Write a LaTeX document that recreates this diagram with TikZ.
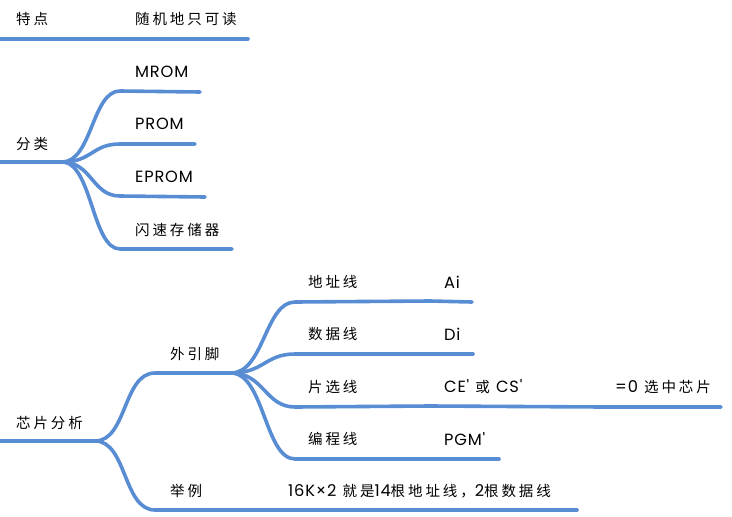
\documentclass[tikz,border=0pt]{standalone}
\usepackage{fontspec}
\setmainfont[LetterSpace=20]{Noto Sans CJK SC}
\newfontfamily\latfont[LetterSpace=5,Scale=1.12]{Poppins}
\newcommand\lt[1]{{\latfont #1}}
\newcommand\apos{{\latfont\char39}}
\usetikzlibrary{calc}
\definecolor{mapblue}{RGB}{88,141,212}
\begin{document}
\begin{tikzpicture}[x=1pt,y=-1pt,
  lbl/.style={anchor=west,inner sep=0pt,font=\fontsize{14.5}{17}\selectfont},
  branch/.style={draw=mapblue,line width=3.6pt,line cap=round,line join=round}]
\useasboundingbox (0,0) rectangle (732,517);

% ---------- 特点 ----------
\node[lbl] (tedian) at (16,19) {特点};
\node[lbl] (suiji) at (135,19) {随机地只可读};
\coordinate (tedian-s) at (0,39);
\coordinate (tedian-e) at (130,39);
\coordinate (suiji-e) at (248,39);
\draw[branch] (tedian-s) -- (tedian-e) -- (suiji-e);

% ---------- 分类 ----------
\node[lbl] (fenlei) at (16,144) {分类};
\coordinate (fenlei-s) at (0,162);
\coordinate (fenlei-e) at (62,162);
\draw[branch] (fenlei-s) -- (fenlei-e);

\node[lbl] (mrom) at (135,72) {\lt{MROM}};
\node[lbl] (prom) at (135,124) {\lt{PROM}};
\node[lbl] (eprom) at (135,177) {\lt{EPROM}};
\node[lbl] (shansu) at (135,230) {闪速存储器};
\coordinate (mrom-s) at (120,91);   \coordinate (mrom-e) at (200,92);
\coordinate (prom-s) at (120,144);  \coordinate (prom-e) at (195,144);
\coordinate (eprom-s) at (120,196); \coordinate (eprom-e) at (205,197);
\coordinate (shansu-s) at (120,249);\coordinate (shansu-e) at (232,249);
\foreach \c in {mrom,prom,eprom,shansu}{
  \draw[branch] (fenlei-e) .. controls ($(fenlei-e)+(30,0)$) and ($(\c-s)+(-28,0)$) .. (\c-s) -- (\c-e);
}

% ---------- 芯片分析 ----------
\node[lbl] (xinpian) at (16,423) {芯片分析};
\coordinate (xinpian-s) at (0,441);
\coordinate (xinpian-e) at (95,441);
\draw[branch] (xinpian-s) -- (xinpian-e);

\node[lbl] (wai) at (170,354) {外引脚};
\node[lbl] (juli) at (170,491) {举例};
\coordinate (wai-s) at (155,373); \coordinate (wai-e) at (231,373);
\coordinate (juli-s) at (155,510); \coordinate (juli-e) at (280,510);
\foreach \c in {wai,juli}{
  \draw[branch] (xinpian-e) .. controls ($(xinpian-e)+(32,0)$) and ($(\c-s)+(-32,0)$) .. (\c-s) -- (\c-e);
}

\node[lbl] (liexample) at (288,491) {\lt{16K×2} 就是\lt{14}根地址线，\lt{2}根数据线};
\coordinate (liexample-e) at (577,510);
\draw[branch] (juli-e) -- (liexample-e);

% 外引脚 children
\node[lbl] (dizhi) at (308,282) {地址线};
\node[lbl] (shuju) at (308,334) {数据线};
\node[lbl] (pianxuan) at (308,387) {片选线};
\node[lbl] (biancheng) at (308,439) {编程线};
\coordinate (dizhi-s) at (295,302);     \coordinate (dizhi-e) at (430,301);
\coordinate (shuju-s) at (295,354);     \coordinate (shuju-e) at (430,354);
\coordinate (pianxuan-s) at (295,407);  \coordinate (pianxuan-e) at (430,406);
\coordinate (biancheng-s) at (295,459); \coordinate (biancheng-e) at (430,459);
\foreach \c in {dizhi,shuju,pianxuan,biancheng}{
  \draw[branch] (wai-e) .. controls ($(wai-e)+(33,0)$) and ($(\c-s)+(-30,0)$) .. (\c-s) -- (\c-e);
}

\node[lbl] (ai) at (444,282) {\lt{Ai}};
\node[lbl] (di) at (444,334) {\lt{Di}};
\node[lbl] (cecs) at (444,387) {\lt{CE}\apos\ 或 \lt{CS}\apos};
\node[lbl] (pgm) at (444,439) {\lt{PGM}\apos};
\node[lbl] (xuanzhong) at (615,387) {\lt{=0} 选中芯片};
\coordinate (ai-e) at (472,302);
\coordinate (di-e) at (473,354);
\coordinate (cecs-e) at (603,407);
\coordinate (pgm-e) at (499,459);
\coordinate (xuanzhong-e) at (721,407);
\draw[branch] (dizhi-e) -- (ai-e);
\draw[branch] (shuju-e) -- (di-e);
\draw[branch] (pianxuan-e) -- (cecs-e) -- (xuanzhong-e);
\draw[branch] (biancheng-e) -- (pgm-e);
\end{tikzpicture}
\end{document}
